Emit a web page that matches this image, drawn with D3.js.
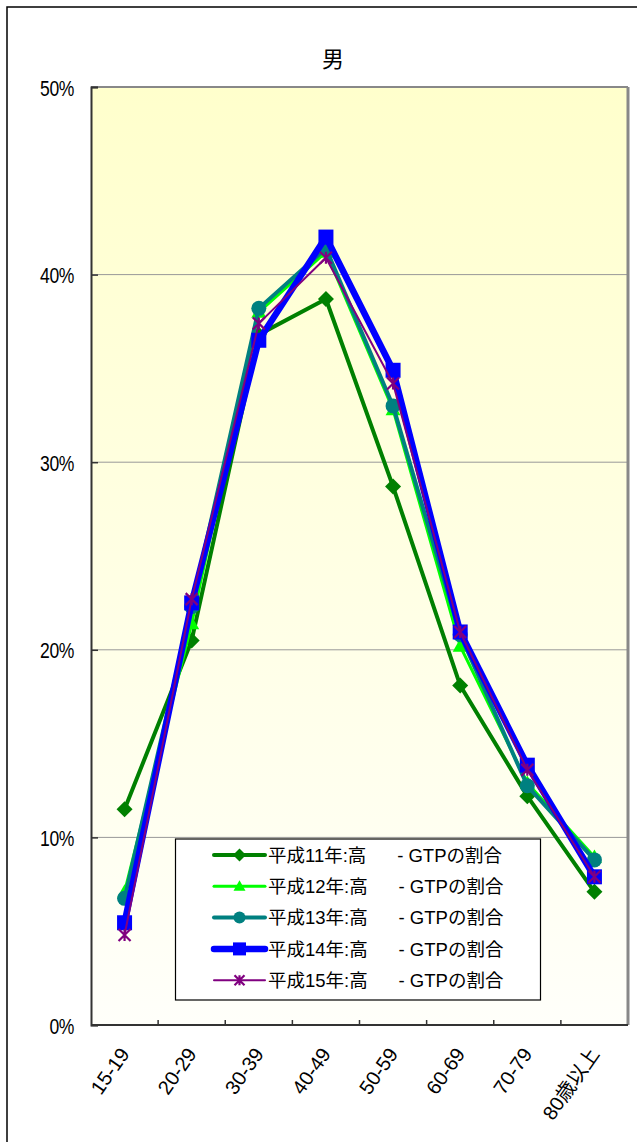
<!DOCTYPE html>
<html><head><meta charset="utf-8">
<script src="https://cdn.jsdelivr.net/npm/d3@7"></script>
<style>
html,body{margin:0;padding:0;background:#fff;}
svg{display:block;}
text{font-family:"Liberation Sans","Noto Sans CJK JP",Arial,sans-serif;fill:#000;}
</style></head>
<body>
<svg id="chart" width="637" height="1142"></svg>
<script>
const categories = ["15-19","20-29","30-39","40-49","50-59","60-69","70-79","80歳以上"];
const yTicks = [0,0.1,0.2,0.3,0.4,0.5];
const seriesNames = ["平成11年:高      - GTPの割合","平成12年:高      - GTPの割合","平成13年:高      - GTPの割合","平成14年:高      - GTPの割合","平成15年:高      - GTPの割合"];
const h11 = [11.5, 20.5, 36.8, 38.7, 28.7, 18.1, 12.2, 7.1];
const h12 = [7.1, 21.4, 38.0, 41.2, 32.8, 20.2, 12.9, 8.95];
const h13 = [6.75, 22.3, 38.2, 41.4, 33.0, 20.8, 12.75, 8.8];
const h14 = [5.45, 22.5, 36.5, 42.0, 34.9, 20.95, 13.85, 7.9];
const h15 = [4.8, 22.7, 37.4, 40.9, 34.2, 20.95, 13.6, 7.9];
const title = "男";

const styles = [
  {color:"#008000", width:4, marker:"diamond"},
  {color:"#00FF00", width:3, marker:"triangle"},
  {color:"#008080", width:4, marker:"circle"},
  {color:"#0000FF", width:6.5, marker:"square"},
  {color:"#800080", width:2, marker:"asterisk"}
];
const seriesValues = [h11,h12,h13,h14,h15];

const svg = d3.select("#chart");
const L=91, R=628, T=87, B=1025;
const x = d3.scaleBand().domain(categories).range([L,R]);
const y = d3.scaleLinear().domain([0,0.5]).range([B,T]);

// outer frame
svg.append("rect").attr("x",7).attr("y",7).attr("width",660).attr("height",1160)
  .attr("fill","#fff").attr("stroke","#000").attr("stroke-width",1.5);

// title
svg.append("text").attr("x",333).attr("y",67).attr("text-anchor","middle")
  .style("font-family","'Noto Sans CJK JP',sans-serif").style("font-size","22px").text(title);

// plot background
const defs = svg.append("defs");
const grad = defs.append("linearGradient").attr("id","bg").attr("x1",0).attr("y1",0).attr("x2",0).attr("y2",1);
grad.append("stop").attr("offset","0%").attr("stop-color","#FFFFCC");
grad.append("stop").attr("offset","100%").attr("stop-color","#FFFFFA");
svg.append("rect").attr("x",L).attr("y",T).attr("width",R-L).attr("height",B-T).attr("fill","url(#bg)");

// gridlines
svg.append("g").selectAll("line").data(yTicks.filter(d=>d>0 && d<0.5)).join("line")
  .attr("x1",L).attr("x2",R).attr("y1",d=>y(d)).attr("y2",d=>y(d))
  .attr("stroke","#999").attr("stroke-width",1);

// plot border top/right
svg.append("line").attr("x1",L).attr("x2",R).attr("y1",T).attr("y2",T).attr("stroke","#888").attr("stroke-width",2);
svg.append("line").attr("x1",R).attr("x2",R).attr("y1",T).attr("y2",B).attr("stroke","#888").attr("stroke-width",3);

// y axis
const yAxis = d3.axisLeft(y).tickValues(yTicks).tickFormat(d3.format(".0%")).tickSize(-7).tickPadding(16);
const gy = svg.append("g").attr("transform",`translate(${L},0)`).call(yAxis);
gy.select(".domain").attr("stroke","#333").attr("stroke-width",2);
gy.selectAll(".tick line").attr("stroke","#333").attr("stroke-width",1.5);
gy.selectAll(".tick text").attr("x",0).attr("transform","translate(-17,0) scale(0.78,1)")
  .style("font-size","22.5px").style("letter-spacing","-0.5px")
  .style("font-family","'Liberation Sans',Arial,sans-serif").attr("dy","0.36em");

// x axis
const gx = svg.append("g").attr("transform",`translate(0,${B})`);
gx.append("line").attr("x1",L).attr("x2",R).attr("y1",0).attr("y2",0).attr("stroke","#333").attr("stroke-width",2);
gx.selectAll("line.tk").data(categories.slice(1)).join("line").attr("class","tk")
  .attr("x1",d=>x(d)).attr("x2",d=>x(d)).attr("y1",0).attr("y2",-5).attr("stroke","#333").attr("stroke-width",1.5);
gx.selectAll("text").data(categories).join("text")
  .attr("transform",d=>`translate(${x(d)+x.bandwidth()/2},${25}) rotate(-55)`)
  .attr("text-anchor","end").attr("dy","0.35em")
  .style("font-size","20px").text(d=>d);

// marker drawer
function drawMarker(g, type, color, cx, cy, s){
  if(type==="diamond"){
    g.append("path").attr("d",`M${cx},${cy-s}L${cx+s},${cy}L${cx},${cy+s}L${cx-s},${cy}Z`).attr("fill",color);
  } else if(type==="triangle"){
    g.append("path").attr("d",`M${cx},${cy-s}L${cx+s},${cy+s*0.75}L${cx-s},${cy+s*0.75}Z`).attr("fill",color);
  } else if(type==="circle"){
    g.append("circle").attr("cx",cx).attr("cy",cy).attr("r",s).attr("fill",color);
  } else if(type==="square"){
    g.append("rect").attr("x",cx-s).attr("y",cy-s).attr("width",2*s).attr("height",2*s).attr("fill",color);
  } else if(type==="asterisk"){
    const p = `M${cx-s},${cy-s}L${cx+s},${cy+s}M${cx-s},${cy+s}L${cx+s},${cy-s}M${cx},${cy-s}L${cx},${cy+s}`;
    g.append("path").attr("d",p).attr("stroke",color).attr("stroke-width",2.2).attr("fill","none");
  }
}
const mSize = {diamond:8, triangle:7.5, circle:7.5, square:7.5, asterisk:6};

const line = d3.line().x((d,i)=>x(categories[i])+x.bandwidth()/2).y(d=>y(d/100));
seriesValues.forEach((vals,k)=>{
  const st = styles[k];
  const g = svg.append("g");
  g.append("path").datum(vals).attr("d",line).attr("fill","none")
    .attr("stroke",st.color).attr("stroke-width",st.width).attr("stroke-linejoin","round");
  vals.forEach((v,i)=>drawMarker(g, st.marker, st.color, x(categories[i])+x.bandwidth()/2, y(v/100), mSize[st.marker]));
});

// legend
const lg = svg.append("g");
lg.append("rect").attr("x",175.5).attr("y",839).attr("width",365).attr("height",161)
  .attr("fill","#fff").attr("stroke","#000").attr("stroke-width",1.2);
const legMSize = {diamond:6.5, triangle:6, circle:6, square:6.5, asterisk:5};
seriesNames.forEach((name,k)=>{
  const st = styles[k];
  const yy = 855 + k*31.3;
  const g = lg.append("g");
  g.append("line").attr("x1",214).attr("x2",265).attr("y1",yy).attr("y2",yy)
    .attr("stroke",st.color).attr("stroke-width",st.width).attr("stroke-linecap","round");
  drawMarker(g, st.marker, st.color, 239.5, yy, legMSize[st.marker]);
  g.append("text").attr("x",268).attr("y",yy).attr("dy","0.36em")
    .attr("xml:space","preserve").style("white-space","pre")
    .style("font-size","18.5px").text(name);
});
</script>
</body></html>
